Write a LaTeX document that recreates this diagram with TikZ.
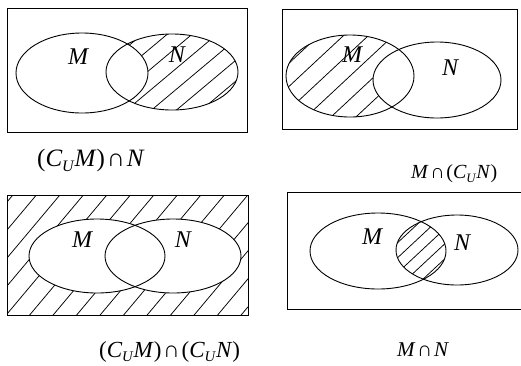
\documentclass[tikz,border=0pt]{standalone}
\usepackage{fontspec}
\setmainfont{Liberation Serif}
\newcommand\CU{\textit{C}\kern-0.3pt\raisebox{-0.2em}{\fontsize{0.64em}{0.64em}\selectfont\textit{U}}}
\newcommand\capsp{\hspace{0.08em}}
\begin{document}
\begin{tikzpicture}[x=1pt,y=-1pt,
  outline/.style={draw=black,line width=0.9pt},
  hatch/.style={draw=black,line width=0.75pt},
  setlabel/.style={font=\fontsize{24}{24}\selectfont\itshape,inner sep=0pt},
  caption/.style={inner sep=0pt,anchor=base}]
\useasboundingbox (0,0) rectangle (521,365);
\newcommand\hatchlines[4]{%
  \begin{scope}[shift={(#1,#2)},rotate=#3]
    \foreach \i in {-30,...,30} \draw[hatch] (-400,\i*#4) -- (400,\i*#4);
  \end{scope}}

% ---------- Panel 1: (C_U M) cap N ----------
\begin{scope}
  \clip (172,72) ellipse [x radius=66,y radius=38];
  \hatchlines{172}{72}{40}{16}
\end{scope}
\fill[white] (82,73) ellipse [x radius=66,y radius=40];
\draw[outline] (7,8) rectangle (247,132);
\draw[outline] (82,73) ellipse [x radius=66,y radius=40];
\draw[outline] (172,72) ellipse [x radius=66,y radius=38];
\node[setlabel] (m1) at (78,57) {M};
\node[setlabel] (n1) at (177,55) {N};
\node[caption,anchor=base west,font=\fontsize{25}{25}\selectfont] (c1) at (37,166) {(\CU\textit{M})\capsp∩\capsp\textit{N}};

% ---------- Panel 2: M cap (C_U N) ----------
\begin{scope}
  \clip (350,76) ellipse [x radius=64,y radius=41];
  \hatchlines{350}{76}{43}{17}
\end{scope}
\fill[white] (437,80) ellipse [x radius=64,y radius=38];
\draw[outline] (282,9) rectangle (517,129);
\draw[outline] (350,76) ellipse [x radius=64,y radius=41];
\draw[outline] (437,80) ellipse [x radius=64,y radius=38];
\node[setlabel] (m2) at (352,55) {M};
\node[setlabel] (n2) at (450,68) {N};
\node[caption,anchor=base west,font=\fontsize{20}{20}\selectfont] (c2) at (411,178) {\textit{M}\capsp∩\capsp(\CU\textit{N})};

% ---------- Panel 3: (C_U M) cap (C_U N) ----------
\begin{scope}
  \clip (7,195) rectangle (248,315);
  \hatchlines{127}{255}{50}{18}
\end{scope}
\fill[white] (97,256) ellipse [x radius=68,y radius=37];
\fill[white] (173,256) ellipse [x radius=68,y radius=37];
\draw[outline] (7,195) rectangle (248,315);
\draw[outline] (97,256) ellipse [x radius=68,y radius=37];
\draw[outline] (173,256) ellipse [x radius=68,y radius=37];
\node[setlabel] (m3) at (82,240) {M};
\node[setlabel] (n3) at (183,240) {N};
\node[caption,anchor=base west,font=\fontsize{23}{23}\selectfont] (c3) at (99,357) {(\CU\textit{M})\capsp∩\capsp(\CU\textit{N})};

% ---------- Panel 4: M cap N ----------
\begin{scope}
  \clip (378,251) ellipse [x radius=68,y radius=38];
  \clip (457,250) ellipse [x radius=61,y radius=35];
  \hatchlines{422}{250}{43}{11}
\end{scope}
\draw[outline] (287,192) rectangle (524,309);
\draw[outline] (378,251) ellipse [x radius=68,y radius=38];
\draw[outline] (457,250) ellipse [x radius=61,y radius=35];
\node[setlabel] (m4) at (372,237) {M};
\node[setlabel] (n4) at (462,243) {N};
\node[caption,font=\fontsize{21}{21}\selectfont] (c4) at (423,356) {\textit{M}\capsp∩\capsp\textit{N}};
\end{tikzpicture}
\end{document}
